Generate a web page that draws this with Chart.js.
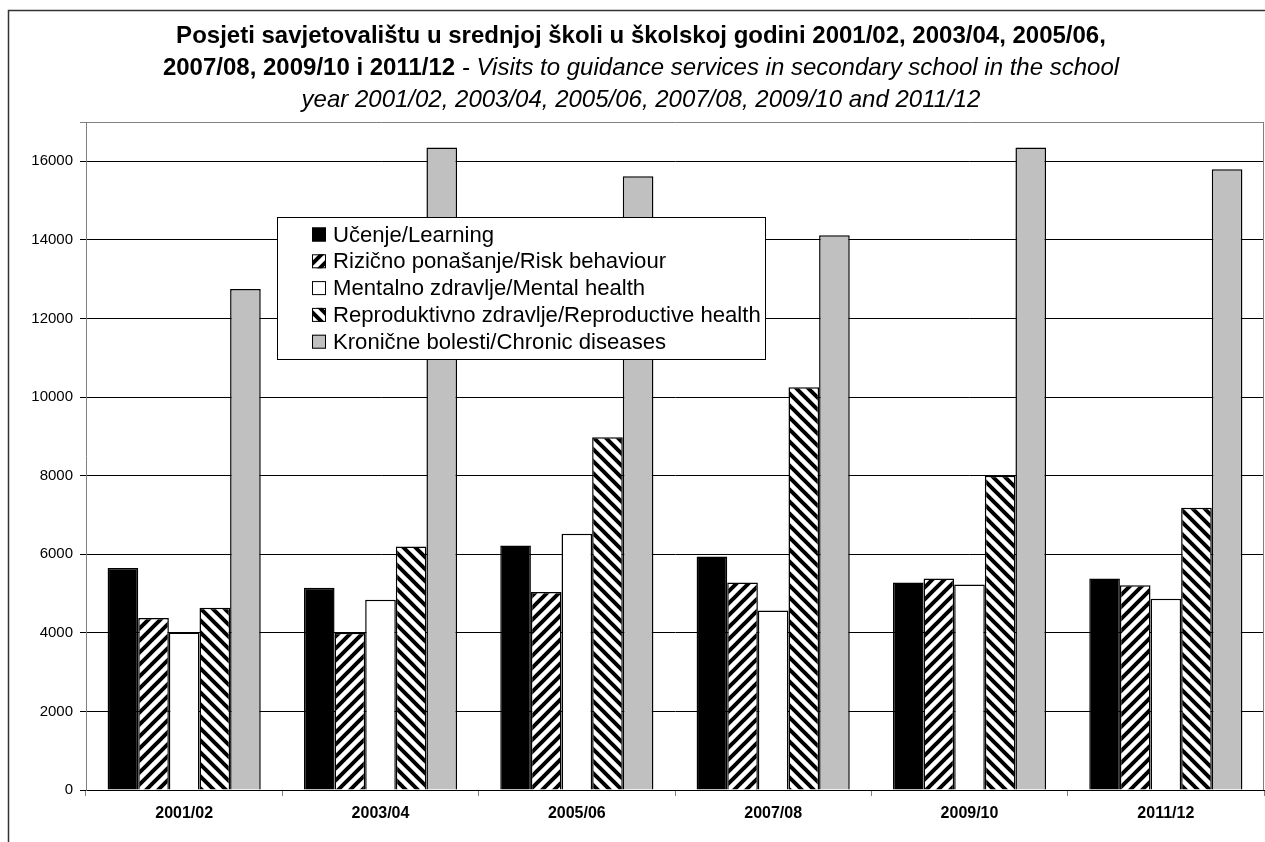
<!DOCTYPE html>
<html>
<head>
<meta charset="utf-8">
<script src="https://cdn.jsdelivr.net/npm/chart.js@4"></script>
<style>
  body { margin: 0; background: #fff; }
  #wrap { position: relative; width: 1265px; height: 842px; }
</style>
</head>
<body>
<div id="wrap"><canvas id="chart"></canvas></div>
<script>
const categories = ['2001/02', '2003/04', '2005/06', '2007/08', '2009/10', '2011/12'];
const seriesNames = [
    'Učenje/Learning',
    'Rizično ponašanje/Risk behaviour',
    'Mentalno zdravlje/Mental health',
    'Reproduktivno zdravlje/Reproductive health',
    'Kronične bolesti/Chronic diseases',
];
const learning = [5650, 5150, 6220, 5940, 5280, 5380];
const riskBehaviour = [4380, 4000, 5040, 5280, 5380, 5210];
const mentalHealth = [4010, 4840, 6520, 4570, 5230, 4870];
const reproductiveHealth = [4640, 6200, 8980, 10250, 8000, 7180];
const chronicDiseases = [12750, 16350, 15620, 14120, 16350, 15800];
const yTicks = [0, 2000, 4000, 6000, 8000, 10000, 12000, 14000, 16000, 17000];
const yLabelled = [0, 2000, 4000, 6000, 8000, 10000, 12000, 14000, 16000];

const titleLine1 = 'Posjeti savjetovalištu u srednjoj školi u školskoj godini 2001/02, 2003/04, 2005/06,';
const titleLine2Bold = '2007/08, 2009/10 i 2011/12';
const titleLine2Italic = ' - Visits to guidance services in secondary school in the school';
const titleLine3 = 'year 2001/02, 2003/04, 2005/06, 2007/08, 2009/10 and 2011/12';

const canvas = document.getElementById('chart');
const ctx = canvas.getContext('2d');

// diagonal stripe fills, like the old Excel patterns
function stripes(dir) {
    const s = 12;
    const c = document.createElement('canvas');
    c.width = s;
    c.height = s;
    const p = c.getContext('2d');
    p.fillStyle = '#fff';
    p.fillRect(0, 0, s, s);
    p.strokeStyle = '#000';
    p.lineWidth = 4;
    p.beginPath();
    for (let k = -1; k <= 2; k++) {
        if (dir === '/') {
            p.moveTo(-s, k * s + s);
            p.lineTo(2 * s, k * s - 2 * s);
        } else {
            p.moveTo(-s, -s + k * s);
            p.lineTo(2 * s, 2 * s + k * s);
        }
    }
    p.stroke();
    return ctx.createPattern(c, 'repeat');
}

const fills = ['#000', stripes('/'), '#fff', stripes('\\'), '#c0c0c0'];
const values = [learning, riskBehaviour, mentalHealth, reproductiveHealth, chronicDiseases];

const frameAndTitle = {
    id: 'frameAndTitle',
    beforeDraw(chart) {
        const c = chart.ctx;
        c.save();
        c.strokeStyle = '#333';
        c.lineWidth = 1.5;
        c.beginPath();
        c.moveTo(8.5, 842);
        c.lineTo(8.5, 10.5);
        c.lineTo(1265, 10.5);
        c.stroke();

        const cx = 641;
        const bold = 'bold 24px Arial, "Liberation Sans"';
        const ital = 'italic 24px Arial, "Liberation Sans"';
        c.fillStyle = '#000';
        c.textBaseline = 'middle';
        c.textAlign = 'left';
        c.font = bold;
        let w = c.measureText(titleLine1).width;
        c.fillText(titleLine1, cx - w / 2, 36);

        c.font = bold;
        const w1 = c.measureText(titleLine2Bold).width;
        c.font = ital;
        const w2 = c.measureText(titleLine2Italic).width;
        let x = cx - (w1 + w2) / 2;
        c.font = bold;
        c.fillText(titleLine2Bold, x, 68);
        c.font = ital;
        c.fillText(titleLine2Italic, x + w1, 68);

        c.font = ital;
        w = c.measureText(titleLine3).width;
        c.fillText(titleLine3, cx - w / 2, 100);
        c.restore();
    },
    afterDatasetsDraw(chart) {
        const c = chart.ctx;
        const a = chart.chartArea;
        c.save();
        // plot area right border
        c.strokeStyle = '#808080';
        c.lineWidth = 1;
        c.beginPath();
        c.moveTo(a.right - 0.5, a.top);
        c.lineTo(a.right - 0.5, a.bottom);
        c.stroke();

        // legend box
        const bx = 277, by = 217, bw = 488, bh = 142;
        c.fillStyle = '#fff';
        c.fillRect(bx, by, bw, bh);
        c.strokeStyle = '#000';
        c.strokeRect(bx + 0.5, by + 0.5, bw, bh);

        c.font = '100px Arial, "Liberation Sans"';
        const size = 100 * 428 / c.measureText(seriesNames[3]).width;
        c.font = size + 'px Arial, "Liberation Sans"';
        c.textBaseline = 'middle';
        c.textAlign = 'left';
        chart.data.datasets.forEach((ds, i) => {
            const y = 234.5 + i * 26.8;
            c.fillStyle = ds.backgroundColor;
            c.fillRect(312, y - 7, 14, 14);
            c.strokeStyle = '#000';
            c.lineWidth = 1;
            c.strokeRect(312.5, y - 6.5, 13, 13);
            c.fillStyle = '#000';
            c.fillText(ds.label, 333, y + 1);
        });
        c.restore();
    },
};

const chartData = {
    labels: categories,
    datasets: seriesNames.map((name, i) => ({
        label: name,
        data: values[i],
        backgroundColor: fills[i],
        borderColor: '#000',
        borderWidth: 1.5,
        categoryPercentage: 0.78,
        barPercentage: 1.0,
    })),
};

const chartConfig = {
    type: 'bar',
    data: chartData,
    plugins: [frameAndTitle],
    options: {
        responsive: true,
        maintainAspectRatio: false,
        animation: false,
        layout: {
            padding: { top: 122, right: 1, left: 0, bottom: 0 },
        },
        plugins: {
            legend: { display: false },
            title: { display: false },
            tooltip: { enabled: false },
        },
        scales: {
            x: {
                grid: {
                    drawOnChartArea: false,
                    drawTicks: true,
                    tickLength: 6,
                    color: '#808080',
                    offset: true,
                },
                border: { color: '#000', width: 1 },
                ticks: {
                    color: '#000',
                    font: { family: 'Arial, "Liberation Sans"', size: 16, weight: 'bold' },
                    padding: 8,
                    maxRotation: 0,
                },
                afterFit: (scale) => { scale.height = 52; },
            },
            y: {
                min: 0,
                max: 17000,
                afterBuildTicks: (scale) => {
                    scale.ticks = yTicks.map((v) => ({ value: v }));
                },
                grid: {
                    color: (c) => (c.tick && c.tick.value === 17000 ? '#808080' : '#000'),
                    tickLength: 6,
                },
                border: { color: '#808080', width: 1 },
                ticks: {
                    color: '#000',
                    font: { family: 'Arial, "Liberation Sans"', size: 15 },
                    padding: 7,
                    callback: (v) => (yLabelled.includes(v) ? String(v) : ''),
                },
                afterFit: (scale) => { scale.width = 86; },
            },
        },
    },
};

const visitsChart = new Chart(ctx, chartConfig);
</script>
</body>
</html>
